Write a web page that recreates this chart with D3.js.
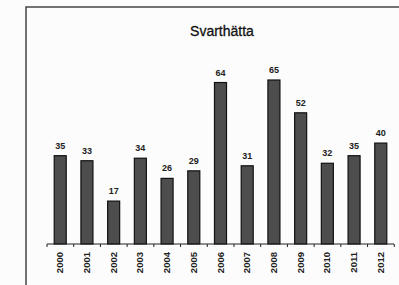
<!DOCTYPE html>
<html>
<head>
  <meta charset="utf-8">
  <title>Svarthätta</title>
  <script src="https://d3js.org/d3.v7.min.js"></script>
  <style>
    body { margin: 0; background: #fcfcfc; }
    svg { display: block; font-family: Arial, "Liberation Sans", sans-serif; }
  </style>
</head>
<body>
  <div id="container"></div>
  <script>
  // data
  const years = ['2000', '2001', '2002', '2003', '2004', '2005', '2006',
                 '2007', '2008', '2009', '2010', '2011', '2012'];
  const counts = [35, 33, 17, 34, 26, 29, 64, 31, 65, 52, 32, 35, 40];
  const title = 'Svarthätta';

  const width = 399,
  height = 285;
  const margin = { top: 7, left: 26 };
  const plot = { left: 47, right: 394, base: 244 };

  var svg = d3.select('#container')
    .append('svg')
    .attr('width', width)
    .attr('height', height);

  // frame (only top and left edges show)
  svg.append('path')
    .attr('d', 'M' + margin.left + ',' + height + 'V' + margin.top + 'H' + width)
    .attr('fill', 'none')
    .attr('stroke', '#444')
    .attr('stroke-width', 1.5);

  svg.append('text')
    .text(title)
    .attr('x', 222)
    .attr('y', 36)
    .attr('text-anchor', 'middle')
    .style('font-size', '14px')
    .style('stroke', '#111')
    .style('stroke-width', 0.3)
    .style('fill', '#111');

  var x = d3.scaleBand()
    .domain(years)
    .range([plot.left, plot.right])
    .paddingInner(0.55)
    .paddingOuter(0.27);

  var y = d3.scaleLinear()
    .domain([0, 65])
    .range([plot.base, 80]);

  var data = years.map(function(d, i) { return { year: d, value: counts[i] }; });

  svg.selectAll('rect.bar')
    .data(data)
    .enter()
    .append('rect')
    .attr('class', 'bar')
    .attr('x', function(d) { return x(d.year); })
    .attr('y', function(d) { return y(d.value); })
    .attr('width', x.bandwidth())
    .attr('height', function(d) { return plot.base - y(d.value); })
    .attr('fill', '#4d4d4d')
    .attr('stroke', '#111')
    .attr('stroke-width', 1.2);

  svg.selectAll('text.val')
    .data(data)
    .enter()
    .append('text')
    .attr('class', 'val')
    .text(function(d) { return d.value; })
    .attr('x', function(d) { return x(d.year) + x.bandwidth() / 2; })
    .attr('y', function(d) { return y(d.value) - 7; })
    .attr('text-anchor', 'middle')
    .style('font-size', '9px')
    .style('font-weight', 'bold')
    .style('fill', '#222');

  // x axis with ticks between categories
  var step = x.step();
  var axis = svg.append('g');
  axis.append('line')
    .attr('x1', plot.left).attr('x2', plot.right)
    .attr('y1', plot.base).attr('y2', plot.base)
    .attr('stroke', '#222').attr('stroke-width', 1.2);
  axis.selectAll('line.tick')
    .data(d3.range(years.length + 1))
    .enter()
    .append('line')
    .attr('class', 'tick')
    .attr('x1', function(i) { return plot.left + i * step; })
    .attr('x2', function(i) { return plot.left + i * step; })
    .attr('y1', plot.base)
    .attr('y2', plot.base + 3)
    .attr('stroke', '#222');

  axis.selectAll('text.year')
    .data(years)
    .enter()
    .append('text')
    .attr('class', 'year')
    .text(function(d) { return d; })
    .attr('transform', function(d) {
      return 'translate(' + (x(d) + x.bandwidth() / 2 + 3) + ',' + 252 + ') rotate(-90)';
    })
    .attr('text-anchor', 'end')
    .style('font-size', '9.5px')
    .style('font-weight', 'bold')
    .style('fill', '#222');
  </script>
</body>
</html>
